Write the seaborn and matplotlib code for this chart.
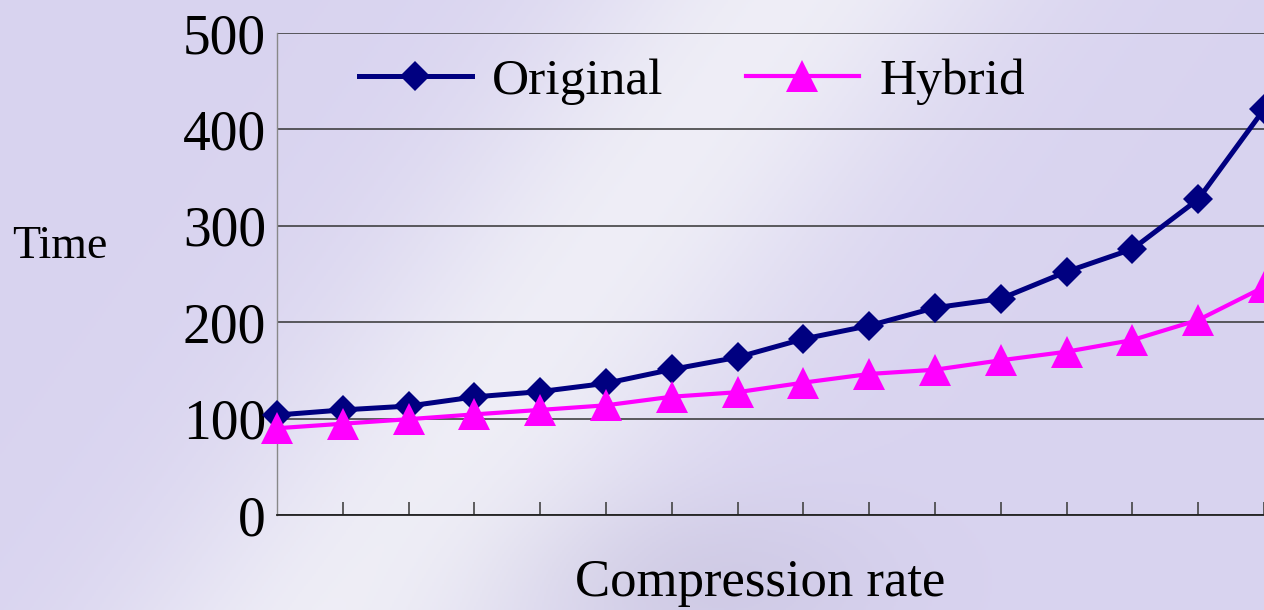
import numpy as np
import pandas as pd
import matplotlib
matplotlib.use("Agg")
import matplotlib.pyplot as plt
import seaborn as sns

# data
steps = list(range(16))
original = [103.7, 109, 113, 122.5, 128, 136.6, 151, 163.6, 182.6, 196.4,
            215, 224.4, 252.4, 275.9, 327.5, 420.8]
hybrid = [90, 94.7, 99.4, 104.4, 109, 113.8, 122.7, 127.4, 137.3, 146.3,
          150.7, 160.5, 169.4, 181.5, 202.3, 236.5]
y_ticks = [0, 100, 200, 300, 400, 500]

plt.rcParams['font.family'] = ['Liberation Serif', 'DejaVu Serif']

fig = plt.figure(figsize=(12.64, 6.10), dpi=100)

# lavender slide-style background
bg = fig.add_axes([0, 0, 1, 1], zorder=-10)
h, w = 305, 632
yy, xx = np.mgrid[0:h, 0:w]
u = xx / w
v = yy / h
band = np.exp(-((u - (0.62 - 0.35 * v)) ** 2) / 0.03)
base = np.array([0.85, 0.83, 0.94])
white = np.array([0.95, 0.95, 0.97])
img = base[None, None, :] * (1 - band[..., None] * 0.85) + white[None, None, :] * band[..., None] * 0.85
img[..., :] -= (0.04 * np.exp(-((u - 0.55) ** 2 + (v - 0.95) ** 2) / 0.02))[..., None]
bg.imshow(np.clip(img, 0, 1), aspect='auto', extent=[0, 1, 0, 1])
bg.axis('off')

ax = fig.add_axes([277 / 1264, 1 - 515 / 610, 1 - 277 / 1264, (515 - 33) / 610])
ax.set_facecolor('none')

df = pd.DataFrame({'step': steps, 'Original': original, 'Hybrid': hybrid})

sns.lineplot(data=df, x='step', y='Original', ax=ax, color='#000080',
             lw=3.6, marker='D', ms=15, mec='#000080', mew=0,
             label='Original', clip_on=False, zorder=4)
sns.lineplot(data=df, x='step', y='Hybrid', ax=ax, color='#FF00FF',
             lw=3.0, marker='^', ms=23, mec='#FF00FF', mew=0,
             label='Hybrid', clip_on=False, zorder=5)

ax.set_xlim(0, 15)
ax.set_ylim(0, 500)
ax.set_yticks(y_ticks)
ax.set_yticklabels([str(t) for t in y_ticks], fontsize=40)
ax.set_xticks(steps[1:])
ax.set_xticklabels([])
ax.tick_params(axis='x', direction='in', length=9.5, width=1.2, color='#444444')
ax.tick_params(axis='y', length=0, pad=8)
ax.grid(axis='y', color='#333333', lw=1.1)
ax.set_axisbelow(True)
for s in ['top', 'right']:
    ax.spines[s].set_visible(False)
ax.spines['left'].set_color('#888888')
ax.spines['left'].set_linewidth(1)
ax.spines['bottom'].set_color('#222222')
ax.spines['bottom'].set_linewidth(1.3)

ax.set_xlabel('Compression rate', fontsize=38, va='center')
ax.xaxis.set_label_coords((760 - 277) / 987, -(583 - 515) / 482)
ax.set_ylabel('Time', fontsize=33, rotation=0, va='center', ha='center')
ax.yaxis.set_label_coords(-(277 - 60) / 987, (515 - 247) / 482)

ax.legend(loc='upper left', bbox_to_anchor=(0.062, 0.99), ncol=2, frameon=False,
          fontsize=37, handlelength=2.2, handletextpad=0.4, columnspacing=1.6,
          borderaxespad=0)

fig.savefig('out.png', dpi=100)
